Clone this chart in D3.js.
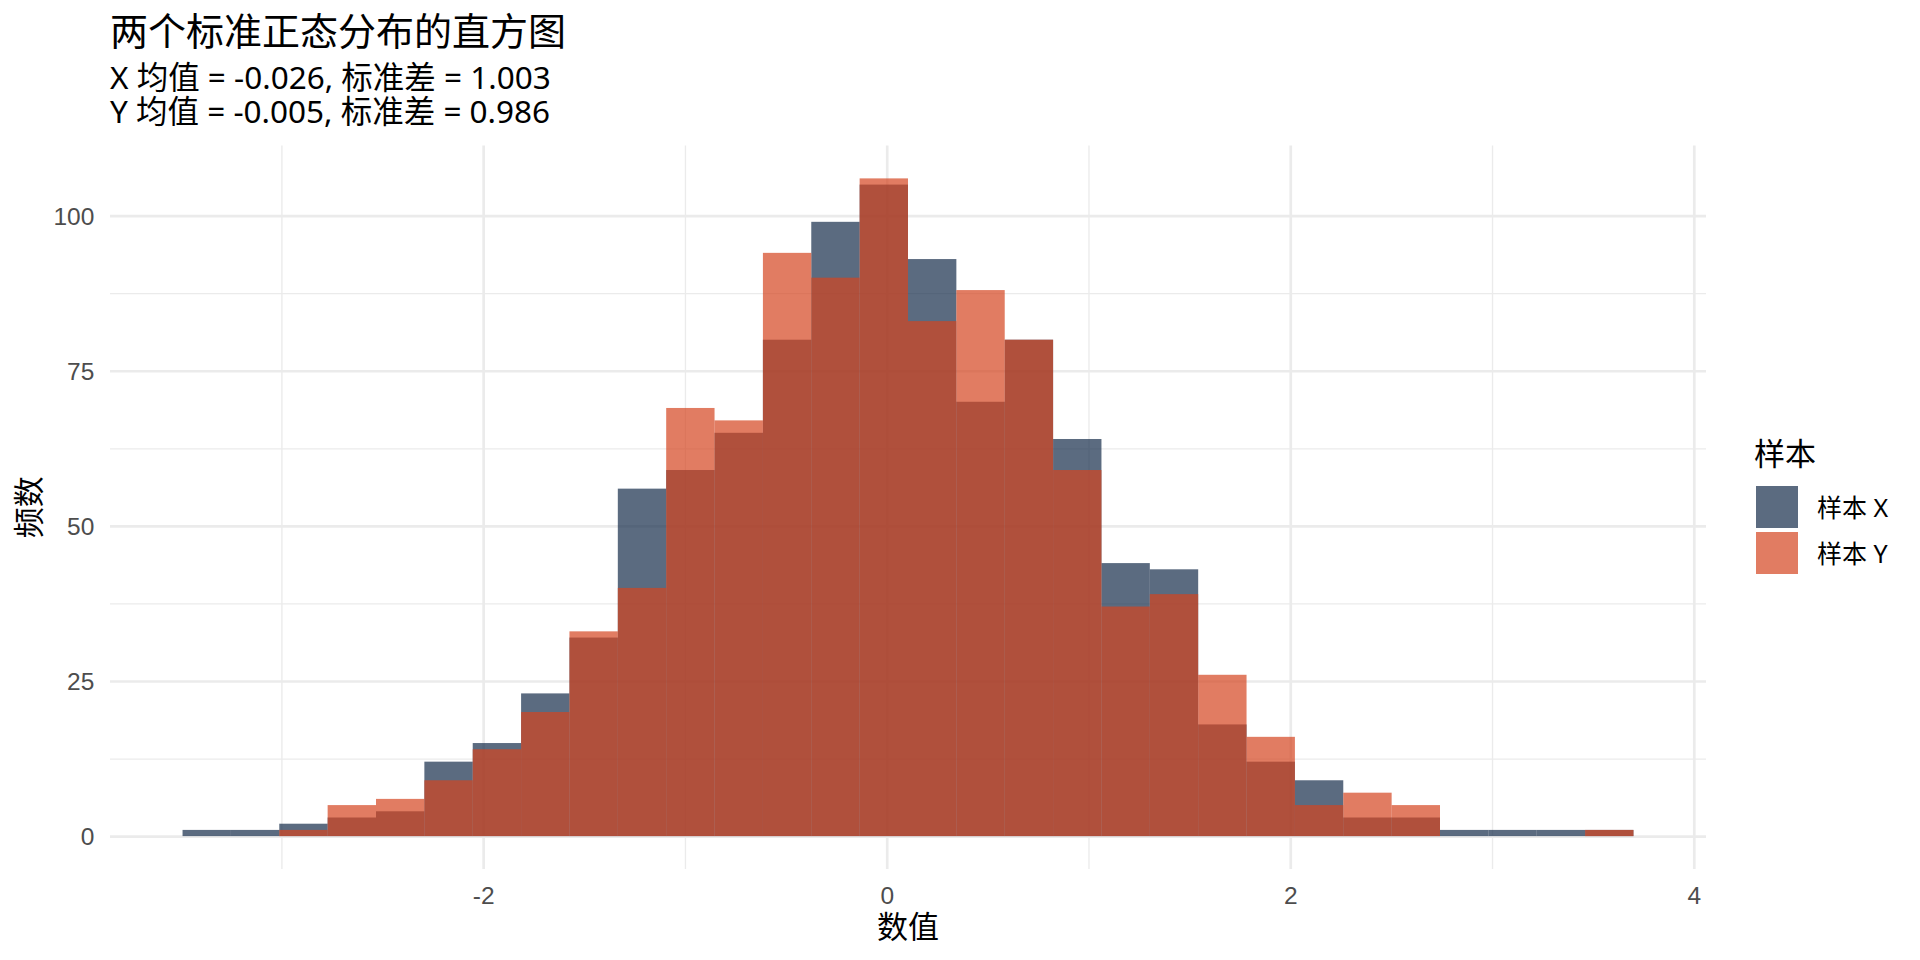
<!DOCTYPE html>
<html>
<head>
<meta charset="utf-8">
<title>两个标准正态分布的直方图</title>
<script src="https://cdn.jsdelivr.net/npm/d3@7"></script>
<style>
body { margin: 0; background: #ffffff; }
text { font-family: "Noto Sans", "Noto Sans CJK SC", sans-serif; }
.tick-label { font-family: "Liberation Sans", Arial, sans-serif; }
.axis-title { font-family: "Liberation Sans", "Noto Sans CJK SC", sans-serif; }
</style>
</head>
<body>
<div id="chart"></div>
<script>
// histogram bins: 30 bins, first left edge and width
var binStart = -3.49;
var binWidth = 0.2397;

// counts per bin
var countsX = [1, 1, 2, 3, 4, 12, 15, 23, 32, 56, 59, 65, 80, 99, 105,
               93, 70, 80, 64, 44, 43, 18, 12, 9, 3, 3, 1, 1, 1, 1];
var countsY = [0, 0, 1, 5, 6, 9, 14, 20, 33, 40, 69, 67, 94, 90, 106,
               83, 88, 80, 59, 37, 39, 26, 16, 5, 7, 5, 0, 0, 0, 1];

var seriesNames = ["样本 X", "样本 Y"];
var seriesColors = ["#162C4A", "#D44420"];

var xTicks = [-2, 0, 2, 4];
var xMinorTicks = [-3, -1, 1, 3];
var yTicks = [0, 25, 50, 75, 100];
var yMinorTicks = [12.5, 37.5, 62.5, 87.5];

var titleText = "两个标准正态分布的直方图";
var subtitleLines = ["X 均值 = -0.026, 标准差 = 1.003",
                     "Y 均值 = -0.005, 标准差 = 0.986"];
var xTitle = "数值";
var yTitle = "频数";
var legendTitle = "样本";

var svgWidth = 1920;
var svgHeight = 960;

var margin = {
    top : 145.5,
    right : 214,
    bottom : 91,
    left : 110
};

var width = svgWidth - margin.left - margin.right;
var height = svgHeight - margin.top - margin.bottom;

var svg = d3.select("#chart")
    .append("svg")
    .attr("width", svgWidth)
    .attr("height", svgHeight);

var chartGroup = svg.append("g")
    .attr("transform", `translate(${margin.left}, ${margin.top})`);

// build bin table from the arrays
var binCount = countsX.length;
var bins = [];
for (var i = 0; i < binCount; i++) {
    bins.push({
        x0 : binStart + i * binWidth,
        x1 : binStart + (i + 1) * binWidth,
        counts : [countsX[i], countsY[i]]
    });
}

// scales with ggplot-like 5% expansion
var xMin = bins[0].x0;
var xMax = bins[binCount - 1].x1;
var xPad = (xMax - xMin) * 0.05;
var xLinearScale = d3.scaleLinear()
    .domain([xMin - xPad, xMax + xPad])
    .range([0, width]);

var yMax = d3.max(countsX.concat(countsY));
var yPad = yMax * 0.05;
var yLinearScale = d3.scaleLinear()
    .domain([-yPad, yMax + yPad])
    .range([height, 0]);

// grid lines
function drawGrid(values, isX, strokeWidth) {
    var axis = isX ? d3.axisBottom(xLinearScale) : d3.axisLeft(yLinearScale);
    axis.tickValues(values)
        .tickSize(isX ? -height : -width)
        .tickFormat("");
    var g = chartGroup.append("g")
        .attr("transform", isX ? `translate(0,${height})` : "translate(0,0)")
        .call(axis);
    g.select(".domain").remove();
    g.selectAll("line")
        .attr("stroke", "#EBEBEB")
        .attr("stroke-width", strokeWidth);
}
drawGrid(yMinorTicks, false, 1.35);
drawGrid(xMinorTicks, true, 1.35);
drawGrid(yTicks, false, 2.7);
drawGrid(xTicks, true, 2.7);

// bars: X first, Y drawn on top
seriesNames.forEach(function(name, s) {
    chartGroup.append("g")
        .selectAll("rect")
        .data(bins.filter(d => d.counts[s] > 0))
        .enter()
        .append("rect")
        .attr("x", d => xLinearScale(d.x0))
        .attr("width", d => xLinearScale(d.x1) - xLinearScale(d.x0))
        .attr("y", d => yLinearScale(d.counts[s]))
        .attr("height", d => yLinearScale(0) - yLinearScale(d.counts[s]))
        .attr("fill", seriesColors[s])
        .attr("fill-opacity", 0.7);
});

// axis labels
var bottomAxis = d3.axisBottom(xLinearScale)
    .tickValues(xTicks)
    .tickSize(0)
    .tickPadding(17.5)
    .tickFormat(d => String(d));
var xAxis = chartGroup.append("g")
    .attr("transform", `translate(0,${height})`)
    .call(bottomAxis);

var leftAxis = d3.axisLeft(yLinearScale)
    .tickValues(yTicks)
    .tickSize(0)
    .tickPadding(15.7)
    .tickFormat(d => String(d));
var yAxis = chartGroup.append("g")
    .call(leftAxis);

[xAxis, yAxis].forEach(function(ax) {
    ax.select(".domain").remove();
    ax.selectAll("text")
        .classed("tick-label", true)
        .attr("fill", "#4D4D4D")
        .style("font-size", "24.5px");
});
yAxis.selectAll("text").attr("dy", "0.36em");

// titles
svg.append("text")
    .attr("x", margin.left)
    .attr("y", 45)
    .attr("fill", "#000")
    .style("font-size", "38px")
    .text(titleText);

// two-line subtitle in one text element
var subtitle = svg.append("text")
    .attr("x", margin.left)
    .attr("y", 89.4)
    .attr("fill", "#000")
    .style("font-size", "31.5px");
subtitle.selectAll("tspan")
    .data(subtitleLines)
    .enter()
    .append("tspan")
    .attr("x", margin.left)
    .attr("dy", (d, i) => i === 0 ? 0 : 33.2)
    .text(d => d);

svg.append("text")
    .attr("class", "axis-title")
    .attr("x", margin.left + width / 2)
    .attr("y", 938)
    .attr("text-anchor", "middle")
    .attr("fill", "#000")
    .style("font-size", "31px")
    .text(xTitle);

svg.append("text")
    .attr("class", "axis-title")
    .attr("transform", `translate(40, ${margin.top + height / 2}) rotate(-90)`)
    .attr("text-anchor", "middle")
    .attr("fill", "#000")
    .style("font-size", "31px")
    .text(yTitle);

// legend
var legendGroup = svg.append("g")
    .attr("transform", "translate(1756, 486)");

legendGroup.append("text")
    .attr("x", -2)
    .attr("y", -21)
    .attr("fill", "#000")
    .style("font-size", "31px")
    .text(legendTitle);

var legendItems = legendGroup.selectAll(".legend-item")
    .data(seriesNames)
    .enter()
    .append("g")
    .attr("class", "legend-item")
    .attr("transform", (d, i) => `translate(0, ${i * 46})`);

legendItems.append("rect")
    .attr("width", 42)
    .attr("height", 42)
    .attr("fill", (d, i) => seriesColors[i])
    .attr("fill-opacity", 0.7);

legendItems.append("text")
    .attr("x", 61)
    .attr("y", 31)
    .attr("fill", "#000")
    .style("font-size", "25px")
    .text(d => d);
</script>
</body>
</html>
